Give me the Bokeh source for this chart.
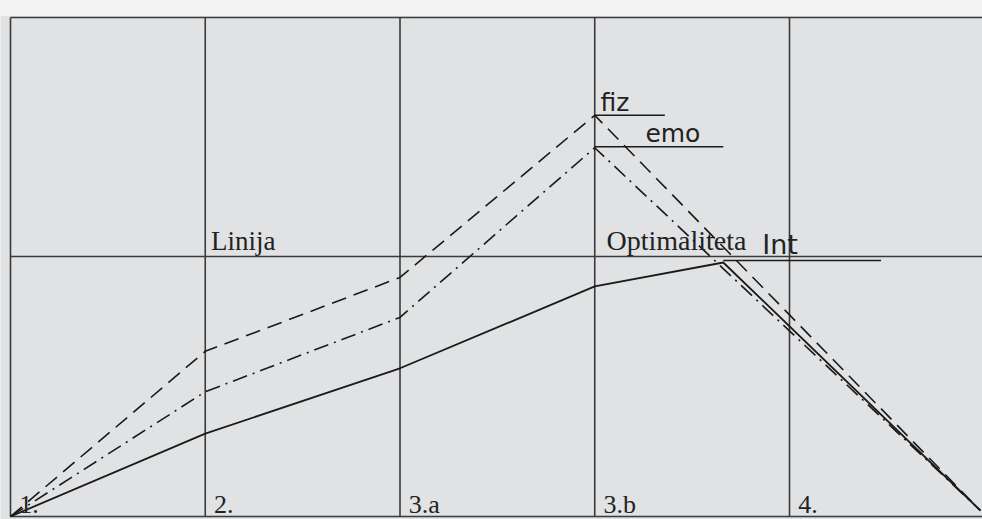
from bokeh.plotting import figure
from bokeh.models import Range1d
from bokeh.core.properties import value
from bokeh.embed import file_html
from bokeh.resources import INLINE

# stages (column positions) and labels
stage_x = [0, 1, 2, 3, 4]
stage_labels = ["1.", "2.", "3.a", "3.b", "4."]

# series (x = stage position, y = level 0..100)
fiz_x = [0, 1, 2, 3, 4.98]
fiz_y = [0, 33.1, 47.9, 80.4, 1.2]
emo_x = [0, 1, 2, 3, 4.98]
emo_y = [0, 25.0, 39.9, 73.9, 1.2]
int_x = [0, 1, 2, 3, 3.66, 4.98]
int_y = [0, 16.6, 29.7, 46.1, 50.9, 1.2]

# reference line "Linija Optimaliteta"
optimum_y = 52.1

# series label markers: (x_start, x_end, y)
fiz_mark = (3.0, 3.36, 80.4)
emo_mark = (3.0, 3.66, 74.1)
int_mark = (3.66, 4.47, 51.3)

X0, X1 = -0.0513, 4.991
Y0, Y1 = -0.6, 103.4

p = figure(width=982, height=519, output_backend="svg", toolbar_location=None,
           x_range=Range1d(X0, X1), y_range=Range1d(Y0, Y1),
           min_border=0, min_border_left=0, min_border_right=0,
           min_border_top=0, min_border_bottom=0)
p.axis.visible = False
p.grid.visible = False
p.outline_line_color = None
p.background_fill_color = "#e1e2e4"
p.border_fill_color = "#e1e2e4"

# pale scan edge above top border
p.quad(left=[X0], right=[X1], bottom=[100.3], top=[Y1], fill_color="#f3f3f3", line_color=None)

grid_col = "#3a3a3a"
# vertical stage lines
p.segment(x0=stage_x, y0=[0] * 5, x1=stage_x, y1=[100] * 5, line_color=grid_col, line_width=1.6)
# frame top / bottom
p.segment(x0=[0, 0], y0=[100, 0], x1=[X1, X1], y1=[100, 0], line_color=grid_col, line_width=1.6)
# optimum line
p.segment(x0=[0], y0=[optimum_y], x1=[X1], y1=[optimum_y], line_color=grid_col, line_width=1.4)

# series
p.line(fiz_x, fiz_y, line_color="#1a1a1a", line_width=1.6, line_dash="15 8")
p.line(emo_x, emo_y, line_color="#1a1a1a", line_width=1.6, line_dash="15 6 2 6")
p.line(int_x, int_y, line_color="#1a1a1a", line_width=1.8)

# label marker lines
for (xa, xb, yy) in (fiz_mark, emo_mark, int_mark):
    p.segment(x0=[xa], y0=[yy], x1=[xb], y1=[yy], line_color="#1a1a1a", line_width=1.5)

# handwritten-like series labels
p.text(x=[3.03], y=[80.0], text=["fiz"], text_font=value("DejaVu Sans"),
       text_font_size="25px", text_color="#222222", text_baseline="bottom")
p.text(x=[3.26], y=[73.8], text=["emo"], text_font=value("DejaVu Sans"),
       text_font_size="25px", text_color="#222222", text_baseline="bottom")
p.text(x=[3.86], y=[51.3], text=["Int"], text_font=value("DejaVu Sans"),
       text_font_size="27px", text_color="#222222", text_baseline="bottom")

# optimum line caption
p.text(x=[1.03], y=[optimum_y + 0.2], text=["Linija"], text_font=value("Liberation Serif"),
       text_font_size="27px", text_color="#222222", text_baseline="bottom")
p.text(x=[3.06], y=[optimum_y + 0.2], text=["Optimaliteta"], text_font=value("Liberation Serif"),
       text_font_size="28px", text_color="#222222", text_baseline="bottom")

# stage labels
p.text(x=[sx + 0.045 for sx in stage_x], y=[2.5] * 5, text=stage_labels,
       text_font=value("Liberation Serif"), text_font_size="26px", text_color="#222222",
       text_baseline="middle")

open("out.html", "w").write(file_html(p, INLINE))
